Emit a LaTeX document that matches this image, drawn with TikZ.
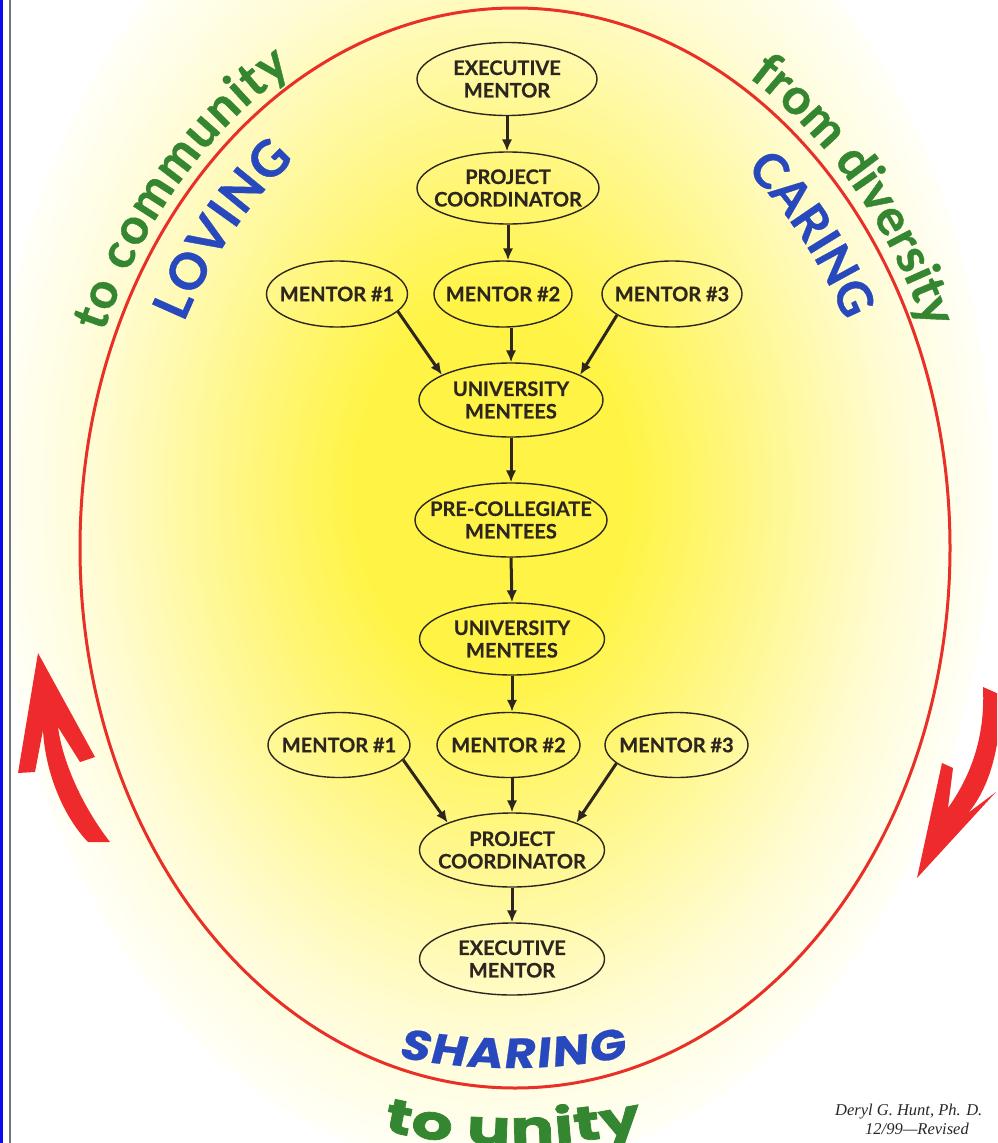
\documentclass[tikz,border=0pt]{standalone}
\usepackage{fontspec}
\setmainfont{Lato}[BoldFeatures={FakeBold=0.5}]
\newfontfamily\greenfont{Lato}[BoldFeatures={FakeBold=0.8}]
\newfontfamily\unityfont{Poppins}[FakeStretch=1.35,BoldFeatures={FakeBold=1.6}]
\newfontfamily\sharefont{Poppins}[FakeStretch=1.15,FakeSlant=0.15,BoldFeatures={FakeBold=0.6}]
\newfontfamily\creditfont{Liberation Serif}
\usetikzlibrary{shapes.geometric,arrows.meta,decorations.text}
\definecolor{ink}{RGB}{45,38,30}
\definecolor{tblue}{RGB}{40,72,190}
\definecolor{tgreen}{RGB}{52,134,48}
\definecolor{rline}{RGB}{232,48,40}
\definecolor{rarrow}{RGB}{238,42,45}
\definecolor{gY}{RGB}{255,244,70}
\definecolor{gM}{RGB}{255,247,135}
\definecolor{gL}{RGB}{255,252,212}
\definecolor{gW}{RGB}{255,255,248}
\definecolor{bblue}{RGB}{10,10,240}
\definecolor{bgrey}{RGB}{115,115,130}
\definecolor{credit}{RGB}{40,40,40}
\pgfdeclareradialshading{glow}{\pgfpoint{0bp}{0bp}}{color(0bp)=(gY); color(7bp)=(gY); color(13bp)=(gM); color(20bp)=(gL); color(25bp)=(gW); color(50bp)=(gW)}
\tikzset{
  nd/.style={ellipse, draw=ink, line width=1.4pt, inner xsep=-16pt, inner ysep=-3pt,
    align=center, text=ink, font=\bfseries\fontsize{20}{22.5}\selectfont},
  conn/.style={draw=ink, line width=3pt, -{Latex[length=12pt,width=10.5pt]}},
  bigarrow/.style={fill=rarrow},
}
\begin{document}
\begin{tikzpicture}[x=1pt,y=1pt]
\useasboundingbox (0,0) rectangle (997,-1143);
\clip (0,0) rectangle (997,-1143);
\fill[white] (0,0) rectangle (997,-1143);
\shade[shading=glow] (492,-490) ellipse [x radius=500, y radius=680];
\fill[bblue] (0,0) rectangle (2.5,-1143);
\fill[bgrey] (8.5,0) rectangle (11,-1143);
\draw[rline, line width=3pt] (515,-548) ellipse [x radius=435, y radius=540];

% curved words
\path[decorate, decoration={text along path, text align=fit to path,
  text={|\greenfont\bfseries\fontsize{50}{50}\selectfont\color{tgreen}|to community}}]
  (515,-548) ++(157:447 and 552) arc[start angle=157, end angle=120, x radius=447, y radius=552];
\path[decorate, decoration={text along path, text align=fit to path,
  text={|\greenfont\bfseries\fontsize{50}{50}\selectfont\color{tgreen}|from diversity}}]
  (515,-548) ++(58.5:447 and 552) arc[start angle=58.5, end angle=23.5, x radius=447, y radius=552];
\path[decorate, decoration={text along path, text align=fit to path,
  text={|\greenfont\bfseries\fontsize{50}{50}\selectfont\color{tblue}|LOVING}}]
  (515,-548) ++(152:375 and 480) arc[start angle=152, end angle=126, x radius=375, y radius=480];
\path[decorate, decoration={text along path, text align=fit to path,
  text={|\greenfont\bfseries\fontsize{48}{48}\selectfont\color{tblue}|CARING}}]
  (515,-548) ++(52:375 and 480) arc[start angle=52, end angle=29.5, x radius=375, y radius=480];
\path[decorate, decoration={text along path, text align=fit to path,
  text={|\sharefont\bfseries\fontsize{42}{42}\selectfont\color{tblue}|SHARING}}]
  (512,-468) ++(259:600) arc[start angle=259, end angle=281, radius=600];
\path[decorate, decoration={text along path, text align=fit to path,
  text={|\unityfont\bfseries\fontsize{48}{48}\selectfont\color{tgreen}|to unity}}]
  (513,-545) ++(257.5:600) arc[start angle=257.5, end angle=282.5, radius=600];

% red block arrows
\fill[bigarrow] (38,-653) -- (95,-757) -- (80,-762) -- (58,-727)
  .. controls (63,-765) and (85,-810) .. (110,-842) -- (88,-842)
  .. controls (62,-815) and (45,-770) .. (43,-730) -- (35,-772) -- (18,-773) -- cycle;
\fill[bigarrow] (917,-878) -- (942,-763) -- (953,-768) -- (948,-808)
  .. controls (975,-770) and (985,-730) .. (983,-687) -- (1001,-695)
  .. controls (1001,-740) and (992,-785) .. (968,-813) -- (996,-792) -- cycle;

% nodes
\node[nd, minimum width=180pt, minimum height=73pt] (em1) at (507,-79) {EXECUTIVE\\MENTOR};
\node[nd, minimum width=182pt, minimum height=72pt] (pc1) at (508,-188) {PROJECT\\COORDINATOR};
\node[nd, minimum width=141pt, minimum height=66pt] (m1a) at (337,-294) {MENTOR \#1};
\node[nd, minimum width=138pt, minimum height=66pt] (m2a) at (503,-294) {MENTOR \#2};
\node[nd, minimum width=140pt, minimum height=66pt] (m3a) at (672,-294) {MENTOR \#3};
\node[nd, minimum width=184pt, minimum height=74pt] (um1) at (511,-400) {UNIVERSITY\\MENTEES};
\node[nd, minimum width=192pt, minimum height=74pt] (pcm) at (511,-520) {PRE-COLLEGIATE\\MENTEES};
\node[nd, minimum width=185pt, minimum height=72pt] (um2) at (512,-639) {UNIVERSITY\\MENTEES};
\node[nd, minimum width=142pt, minimum height=65pt] (m1b) at (339,-745) {MENTOR \#1};
\node[nd, minimum width=143pt, minimum height=65pt] (m2b) at (508.5,-745) {MENTOR \#2};
\node[nd, minimum width=143pt, minimum height=65pt] (m3b) at (676.5,-745) {MENTOR \#3};
\node[nd, minimum width=185pt, minimum height=74pt] (pc2) at (512,-850) {PROJECT\\COORDINATOR};
\node[nd, minimum width=185pt, minimum height=72pt] (em2) at (512,-959) {EXECUTIVE\\MENTOR};

% connectors
\draw[conn] (em1.south) -- (em1.south |- pc1.north);
\draw[conn] (pc1.south) -- (pc1.south |- m2a.north);
\draw[conn] (m1a.-16) -- (um1.160);
\draw[conn] (um1.north |- m2a.south) -- (um1.north);
\draw[conn] (m3a.-159) -- (um1.20);
\draw[conn] (um1.south) -- (pcm.north);
\draw[conn] (pcm.south) -- (um2.north);
\draw[conn] (um2.south) -- (um2.south |- m2b.north);
\draw[conn] (m1b.-13) -- (pc2.157);
\draw[conn] (pc2.north |- m2b.south) -- (pc2.north);
\draw[conn] (m3b.-163) -- (pc2.23);
\draw[conn] (pc2.south) -- (em2.north);

% credit
\node[anchor=base west, inner sep=0pt, text=credit, font=\creditfont\itshape\fontsize{16.5}{19}\selectfont] (cr1) at (835,-1115) {Deryl G. Hunt, Ph. D.};
\node[anchor=base west, inner sep=0pt, text=credit, font=\creditfont\itshape\fontsize{16.5}{19}\selectfont] (cr2) at (865,-1134) {12/99—Revised};
\end{tikzpicture}
\end{document}
